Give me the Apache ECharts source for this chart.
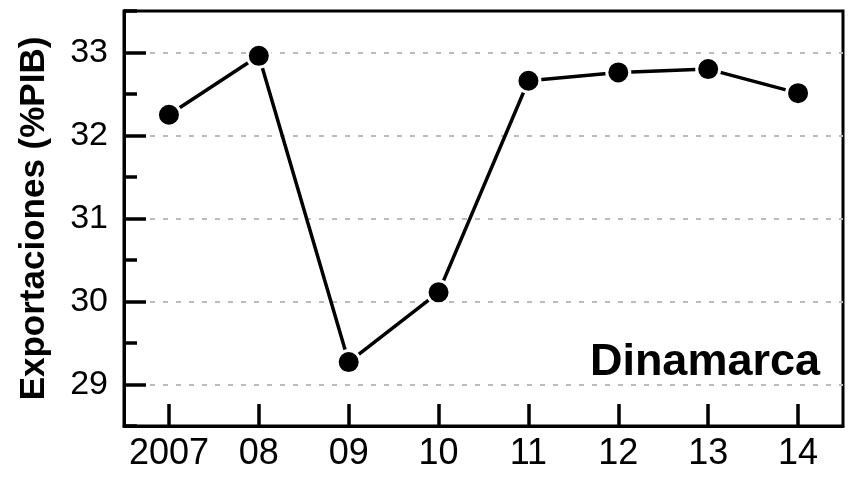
<!DOCTYPE html>
<html>
<head>
<meta charset="utf-8">
<script src="https://cdn.jsdelivr.net/npm/echarts@6/dist/echarts.min.js"></script>
<style>html,body{margin:0;padding:0;background:#fff}#c{width:849px;height:481px}</style>
</head>
<body>
<div id="c"></div>
<script>
const categories = ['2007', '08', '09', '10', '11', '12', '13', '14'];
const exportValues = [32.25, 32.96, 29.27, 30.11, 32.66, 32.76, 32.80, 32.51];
const majorTicks = [29, 30, 31, 32, 33];
const minorTicks = [28.5, 29.5, 30.5, 31.5, 32.5, 33.5];
const yTitle = 'Exportaciones (%PIB)';
const countryLabel = 'Dinamarca';

const FONT = '"Liberation Sans", Arial, Helvetica, sans-serif';
const chart = echarts.init(document.getElementById('c'), null, {renderer: 'canvas'});
chart.setOption({
  animation: false,
  backgroundColor: '#fff',
  title: {
    text: countryLabel,
    right: 24, top: 335,
    textStyle: {fontFamily: FONT, fontWeight: 'bold', fontSize: 45, color: '#000'}
  },
  grid: {left: 124, right: 6, top: 11, bottom: 55, show: true, borderColor: '#000', borderWidth: 3, backgroundColor: 'transparent'},
  xAxis: {
    type: 'category',
    data: categories,
    boundaryGap: true,
    axisLine: {show: true, lineStyle: {color: '#000', width: 3}},
    axisTick: {show: true, alignWithLabel: true, inside: true, length: 22, interval: 0, lineStyle: {color: '#000', width: 3.5}},
    axisLabel: {show: true, interval: 0, margin: 10, fontFamily: FONT, fontSize: 36, color: '#000'},
    splitLine: {show: false}
  },
  yAxis: [{
    type: 'value',
    min: 28.5, max: 33.5,
    name: yTitle,
    nameLocation: 'middle',
    nameGap: 72,
    nameTextStyle: {fontFamily: FONT, fontWeight: 'bold', fontSize: 35, color: '#000'},
    axisLine: {show: true, lineStyle: {color: '#000', width: 3}},
    axisTick: {show: true, inside: true, length: 22, customValues: majorTicks, lineStyle: {color: '#000', width: 3.5}},
    axisLabel: {show: true, margin: 16, fontFamily: FONT, fontSize: 34, color: '#000', customValues: majorTicks},
    splitLine: {show: true, lineStyle: {color: '#bbb', width: 2, type: [5, 8]}}
  }, {
    type: 'value',
    min: 28.5, max: 33.5,
    position: 'left',
    axisLine: {show: false},
    axisTick: {show: true, inside: true, length: 13, customValues: minorTicks, lineStyle: {color: '#000', width: 3.5}},
    axisLabel: {show: false},
    splitLine: {show: false}
  }],
  series: [{
    type: 'line',
    data: exportValues,
    yAxisIndex: 0,
    symbol: 'circle',
    symbolSize: 23,
    lineStyle: {color: '#000', width: 3.5},
    itemStyle: {color: '#000', borderColor: '#fff', borderWidth: 3},
    z: 5
  }]
});
</script>
</body>
</html>
